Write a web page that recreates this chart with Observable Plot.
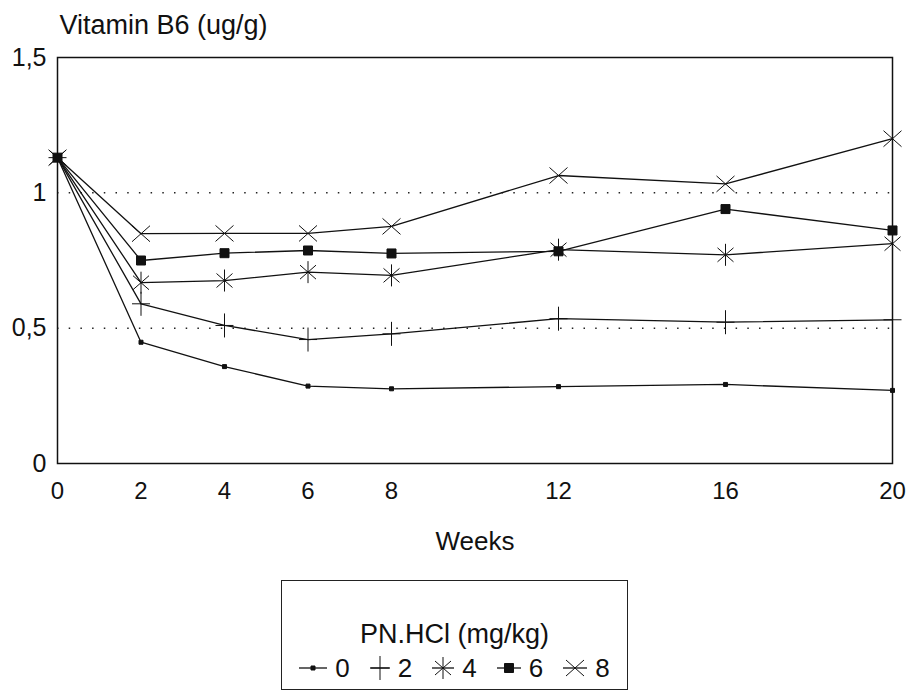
<!DOCTYPE html>
<html>
<head>
<meta charset="utf-8">
<script src="https://cdn.jsdelivr.net/npm/d3@7"></script>
<script src="https://cdn.jsdelivr.net/npm/@observablehq/plot@0.6"></script>
<style>
  body { margin: 0; background: #fff; font-family: "Liberation Sans", Arial, sans-serif; color: #111; }
  #chart svg { display: block; }
  #legend { position: relative; margin: 20px 0 0 281px; width: 345px; height: 108px; border: 1.5px solid #222; }
  #legend .title { position: absolute; top: 37px; left: 0; right: 0; text-align: center; font-size: 27px; line-height: 32px; }
  #legend .row { position: absolute; top: 71px; left: 0; right: 0; height: 32px; display: flex; justify-content: center; align-items: center; font-size: 26px; }
  #legend .item { display: flex; align-items: center; margin-right: 20px; }
  #legend .item:last-child { margin-right: 0; }
  #legend .item svg { margin-right: 8px; display: block; }
</style>
</head>
<body>
<div id="chart"></div>
<div id="legend">
  <div class="title">PN.HCl (mg/kg)</div>
  <div class="row" id="legend-row"></div>
</div>
<script>
// ---- data ----
const weeks = [0, 2, 4, 6, 8, 12, 16, 20];
const doses = ["0", "2", "4", "6", "8"];
const b6_dose0 = [1.13, 0.448, 0.358, 0.286, 0.276, 0.284, 0.292, 0.270];
const b6_dose2 = [1.13, 0.590, 0.510, 0.458, 0.479, 0.535, 0.522, 0.531];
const b6_dose4 = [1.13, 0.668, 0.676, 0.707, 0.695, 0.790, 0.771, 0.812];
const b6_dose6 = [1.13, 0.750, 0.777, 0.787, 0.776, 0.784, 0.940, 0.861];
const b6_dose8 = [1.13, 0.849, 0.850, 0.850, 0.876, 1.064, 1.033, 1.200];
const yTicks = [0, 0.5, 1, 1.5];
const xTicks = [0, 2, 4, 6, 8, 12, 16, 20];
const gridValues = [0.5, 1];
const yTitle = "Vitamin B6 (ug/g)";
const xTitle = "Weeks";

const seriesValues = { "0": b6_dose0, "2": b6_dose2, "4": b6_dose4, "6": b6_dose6, "8": b6_dose8 };
const data = doses.flatMap(d => weeks.map((w, i) => ({ week: w, value: seriesValues[d][i], dose: d })));

// ---- custom marker shapes ----
const symbols = {
  "0": { draw(c) { c.rect(-2, -2, 4, 4); } },
  "2": { draw(c) { c.moveTo(-9, 0); c.lineTo(9, 0); c.moveTo(0, -12); c.lineTo(0, 12); } },
  "4": { draw(c) { c.moveTo(-8, -7); c.lineTo(8, 7); c.moveTo(-8, 7); c.lineTo(8, -7); c.moveTo(0, -11); c.lineTo(0, 11); } },
  "6": { draw(c) { c.rect(-4.5, -4.5, 9, 9); } },
  "8": { draw(c) { c.moveTo(-9, -8); c.lineTo(9, 8); c.moveTo(-9, 8); c.lineTo(9, -8); } }
};

const chart = Plot.plot({
  width: 908,
  height: 560,
  marginLeft: 57,
  marginRight: 16,
  marginTop: 57,
  marginBottom: 97,
  style: { fontFamily: "'Liberation Sans', Arial, sans-serif", fontSize: "24px", color: "#111", background: "white" },
  x: { domain: [0, 20] },
  y: { domain: [0, 1.5] },
  symbol: { domain: doses, range: doses.map(d => symbols[d]) },
  marks: [
    Plot.ruleY(gridValues, { stroke: "#222", strokeWidth: 1.5, strokeDasharray: "1.5,10.2" }),
    Plot.frame({ stroke: "#111", strokeWidth: 1.5 }),
    Plot.axisY(yTicks, { tickSize: 0, tickPadding: 11, fontSize: 25, label: null, tickFormat: d => String(d).replace(".", ",") }),
    Plot.axisX(xTicks, { tickSize: 0, tickPadding: 18, fontSize: 24, label: null }),
    Plot.line(data, { x: "week", y: "value", z: "dose", stroke: "#111", strokeWidth: 1.3 }),
    Plot.dot(data, { x: "week", y: "value", symbol: "dose", fill: "#111", stroke: "#111", strokeWidth: 1, r: 5 }),
    Plot.text([yTitle], { text: d => d, frameAnchor: "top-left", dx: 2, dy: -32, textAnchor: "start", lineAnchor: "middle", fontSize: 27 }),
    Plot.text([xTitle], { text: d => d, frameAnchor: "bottom", dy: 78, lineAnchor: "middle", fontSize: 26 })
  ]
});
document.getElementById("chart").append(chart);

// ---- legend ----
const legendWidths = { "0": 28, "2": 20, "4": 22, "6": 24, "8": 24 };
const row = d3.select("#legend-row");
for (const d of doses) {
  const item = row.append("div").attr("class", "item");
  const w = legendWidths[d];
  const svg = item.append("svg").attr("width", w).attr("height", 26);
  svg.append("line").attr("x1", 0).attr("x2", w).attr("y1", 13).attr("y2", 13)
    .attr("stroke", "#111").attr("stroke-width", 1.3);
  svg.append("path").attr("transform", `translate(${w / 2},13)`)
    .attr("d", d3.symbol(symbols[d])())
    .attr("fill", "#111").attr("stroke", "#111").attr("stroke-width", 1);
  item.append("span").text(d);
}
</script>
</body>
</html>
